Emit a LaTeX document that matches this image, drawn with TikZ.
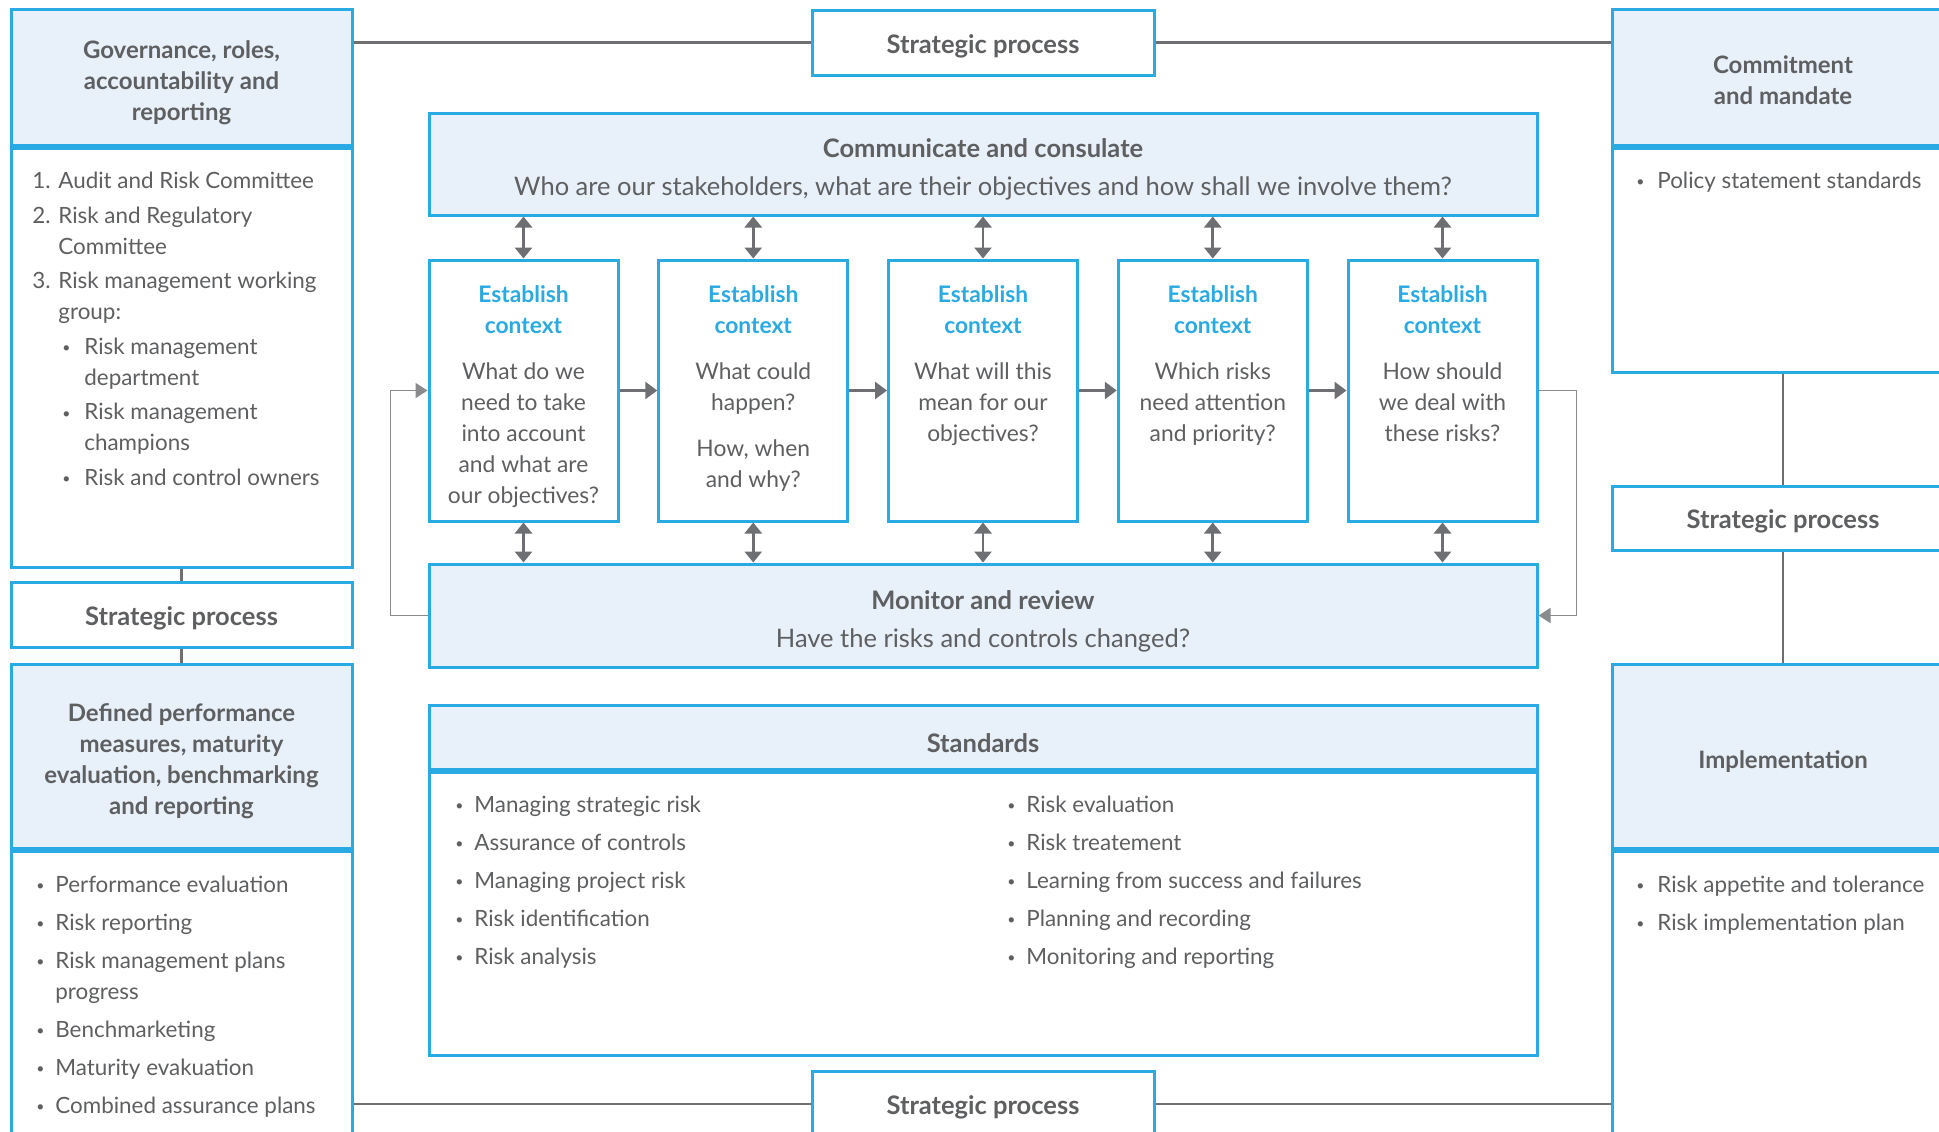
\documentclass[tikz,border=0pt]{standalone}
\usepackage{fontspec}
\setmainfont{Lato}
\usepackage{tikz}
\usetikzlibrary{arrows.meta,positioning}
\definecolor{riskblue}{HTML}{2AAAE2}
\definecolor{headbg}  {HTML}{E8F0FA}
\definecolor{inkgray} {HTML}{5E5F61}
\definecolor{linegray}{HTML}{6E6F72}
\definecolor{loopgray}{HTML}{8A8B8D}
\newcommand{\bodyfont}{\fontsize{11.2}{15.5}\selectfont}
\newcommand{\estfont}{\fontsize{11.4}{15.5}\selectfont}
\newcommand{\midfont}{\fontsize{12.75}{15.5}\selectfont}
\newcommand{\sidefont}{\fontsize{12}{15.5}\selectfont}
\newcommand{\numlbl}[1]{\makebox[13pt][l]{#1}}
\newcommand{\bul}[1][9.5pt]{\makebox[#1][l]{\raisebox{0.8pt}{\fontsize{7}{7}\selectfont\textbullet}}}
\newcommand{\estitle}{\textcolor{riskblue}{\bfseries Establish}\\\textcolor{riskblue}{\bfseries context}\\[7.5pt]}
\tikzset{
  box/.style      ={draw=riskblue, fill=white, line width=1.5pt, inner sep=0pt,
                    text=inkgray, align=center},
  hbox/.style     ={box, fill=headbg},
  sidebox/.style  ={minimum width=170.5pt},
  spbox/.style    ={box, font=\midfont\bfseries, text height=10.5pt, text depth=0pt},
  htext/.style    ={inner sep=0pt, text=inkgray, align=center, font=\sidefont\bfseries},
  ctext/.style    ={inner sep=0pt, text=inkgray, align=center, font=\midfont},
  ebox/.style     ={box, minimum width=94.5pt, minimum height=130.5pt},
  etext/.style    ={inner sep=0pt, text=inkgray, font=\estfont, align=center},
  list/.style     ={anchor=north west, inner sep=0pt, text=inkgray,
                    font=\bodyfont, align=left},
  link/.style     ={draw=linegray, line width=1.4pt},
  backline/.style ={draw=loopgray, line width=0.9pt,
                    -{Triangle[length=6pt,width=7.5pt]}},
  arr/.style      ={draw=linegray, line width=1.4pt,
                    -{Triangle[length=6pt,width=8.5pt]}},
  dblarr/.style   ={draw=linegray, line width=1.4pt,
                    {Triangle[length=5.5pt,width=8.5pt]}-{Triangle[length=5.5pt,width=8.5pt]}},
}

\begin{document}
\begin{tikzpicture}[x=0.5pt,y=-0.5pt]
  \useasboundingbox (0,0) rectangle (1939,1131);
  \clip (0,0) rectangle (1939,1131);

  % left column
  \node[hbox,sidebox,minimum height=68pt] (gov) at (181.5,77) {};
  \node[htext] (govtxt) at ([yshift=-3pt]gov.center)
    {Governance, roles,\\accountability and\\reporting};
  \node[box,sidebox,minimum height=209.5pt,anchor=north] (govbody) at (gov.south) {};
  \node[list] (govlist) at (32,171.5)
    {\numlbl{1.}Audit and Risk Committee\\[1.8pt]
     \numlbl{2.}Risk and Regulatory\\
     \hspace*{13pt}Committee\\[1.8pt]
     \numlbl{3.}Risk management working\\
     \hspace*{13pt}group:\\[1.8pt]
     \hspace*{15pt}\bul[11pt]Risk management\\
     \hspace*{26pt}department\\[1.8pt]
     \hspace*{15pt}\bul[11pt]Risk management\\
     \hspace*{26pt}champions\\[1.8pt]
     \hspace*{15pt}\bul[11pt]Risk and control owners};
  \node[spbox,sidebox,minimum height=32.5pt] (leftsp) at (181.5,614.5) {Strategic process};
  \node[hbox,sidebox,minimum height=92pt] (perf) at (181.5,756) {};
  \node[htext] (perftxt) at ([yshift=-2.8pt]perf.center)
    {Defined performance\\measures, maturity\\evaluation, benchmarking\\and reporting};
  \node[box,sidebox,minimum height=156pt,anchor=north] (perfbody) at (perf.south) {};
  \node[list] (perflist) at (36,875.5)
    {\bul Performance evaluation\\[3.5pt]
     \bul Risk reporting\\[3.5pt]
     \bul Risk management plans\\
     \hspace*{9.5pt}progress\\[3.5pt]
     \bul Benchmarketing\\[3.5pt]
     \bul Maturity evakuation\\[3.5pt]
     \bul Combined assurance plans};

  % right column
  \node[hbox,sidebox,minimum height=68pt] (mand) at (1783,77) {};
  \node[htext] (mandtxt) at ([yshift=-1.5pt]mand.center) {Commitment\\and mandate};
  \node[box,sidebox,minimum height=112pt,anchor=north] (mandbody) at (mand.south) {};
  \node[list] (mandlist) at (1636,171.5) {\bul[10.5pt]Policy statement standards};
  \node[spbox,sidebox,minimum height=32pt] (rightsp) at (1783,518) {Strategic process};
  \node[hbox,sidebox,minimum height=92pt] (impl) at (1783,756) {};
  \node[htext] (impltxt) at ([yshift=-3pt]impl.center) {Implementation};
  \node[box,sidebox,minimum height=156pt,anchor=north] (implbody) at (impl.south) {};
  \node[list] (impllist) at (1636,875.5)
    {\bul[10.5pt]Risk appetite and tolerance\\[3.5pt]
     \bul[10.5pt]Risk implementation plan};

  % centre
  \node[spbox,minimum width=171pt,minimum height=32.5pt] (topsp) at (983,42.5) {Strategic process};
  \node[spbox,minimum width=171pt,minimum height=33pt] (botsp) at (983,1104) {Strategic process};
  \node[hbox,minimum width=554pt,minimum height=51pt] (comm) at (983,164) {};
  \node[ctext] (commtxt) at ([yshift=-2.8pt]comm.center)
    {\bfseries Communicate and consulate\\[3.5pt]
     Who are our stakeholders, what are their objectives and how shall we involve them?};
  \node[hbox,minimum width=554pt,minimum height=51.5pt] (mon) at (983,615.5) {};
  \node[ctext] (montxt) at ([yshift=-3.1pt]mon.center)
    {\bfseries Monitor and review\\[3.5pt]
     Have the risks and controls changed?};

  \foreach \i/\cx in {1/523.5,2/753.25,3/983,4/1212.75,5/1442.5}
    \node[ebox] (est\i) at (\cx,390.5) {};
  \node[etext,below=13.5pt of est1.north] (q1)
    {\estitle What do we\\need to take\\into account\\and what are\\our objectives?};
  \node[etext,below=13.5pt of est2.north] (q2)
    {\estitle What could\\happen?\\[7.5pt]How, when\\and why?};
  \node[etext,below=13.5pt of est3.north] (q3)
    {\estitle What will this\\mean for our\\objectives?};
  \node[etext,below=13.5pt of est4.north] (q4)
    {\estitle Which risks\\need attention\\and priority?};
  \node[etext,below=13.5pt of est5.north] (q5)
    {\estitle How should\\we deal with\\these risks?};

  \node[hbox,minimum width=554pt,minimum height=32pt] (stdhead) at (983,737) {};
  \node[ctext,font=\midfont\bfseries] (stdtxt) at ([yshift=-3pt]stdhead.center) {Standards};
  \node[box,minimum width=554pt,minimum height=141.5pt,anchor=north] (stdbody) at (stdhead.south) {};
  \node[list] (stdleft) at (455,795.5)
    {\bul Managing strategic risk\\[3.5pt]
     \bul Assurance of controls\\[3.5pt]
     \bul Managing project risk\\[3.5pt]
     \bul Risk identification\\[3.5pt]
     \bul Risk analysis};
  \node[list] (stdright) at (1007,795.5)
    {\bul Risk evaluation\\[3.5pt]
     \bul Risk treatement\\[3.5pt]
     \bul Learning from success and failures\\[3.5pt]
     \bul Planning and recording\\[3.5pt]
     \bul Monitoring and reporting};

  % connectors
  \draw[link] (topsp.west) -- (topsp.west -| gov.east);
  \draw[link] (topsp.east) -- (topsp.east -| mand.west);
  \draw[link] (botsp.west) -- (botsp.west -| perfbody.east);
  \draw[link] (botsp.east) -- (botsp.east -| implbody.west);
  \draw[link] (govbody.south) -- (leftsp.north);
  \draw[link] (leftsp.south) -- (perf.north);
  \draw[link] (mandbody.south) -- (rightsp.north);
  \draw[link] (rightsp.south) -- (impl.north);

  \foreach \i/\j in {1/2,2/3,3/4,4/5}
    \draw[arr] (est\i.east) -- (est\j.west);
  \foreach \i in {1,...,5} {
    \draw[dblarr] (comm.south -| est\i.north) -- (est\i.north);
    \draw[dblarr] (est\i.south) -- (est\i.south |- mon.north);
  }
  \draw[backline] (mon.west) -- ++(-37,0) |- (est1.west);
  \draw[backline] (est5.east) -- ++(38,0) |- (mon.east);
\end{tikzpicture}
\end{document}
